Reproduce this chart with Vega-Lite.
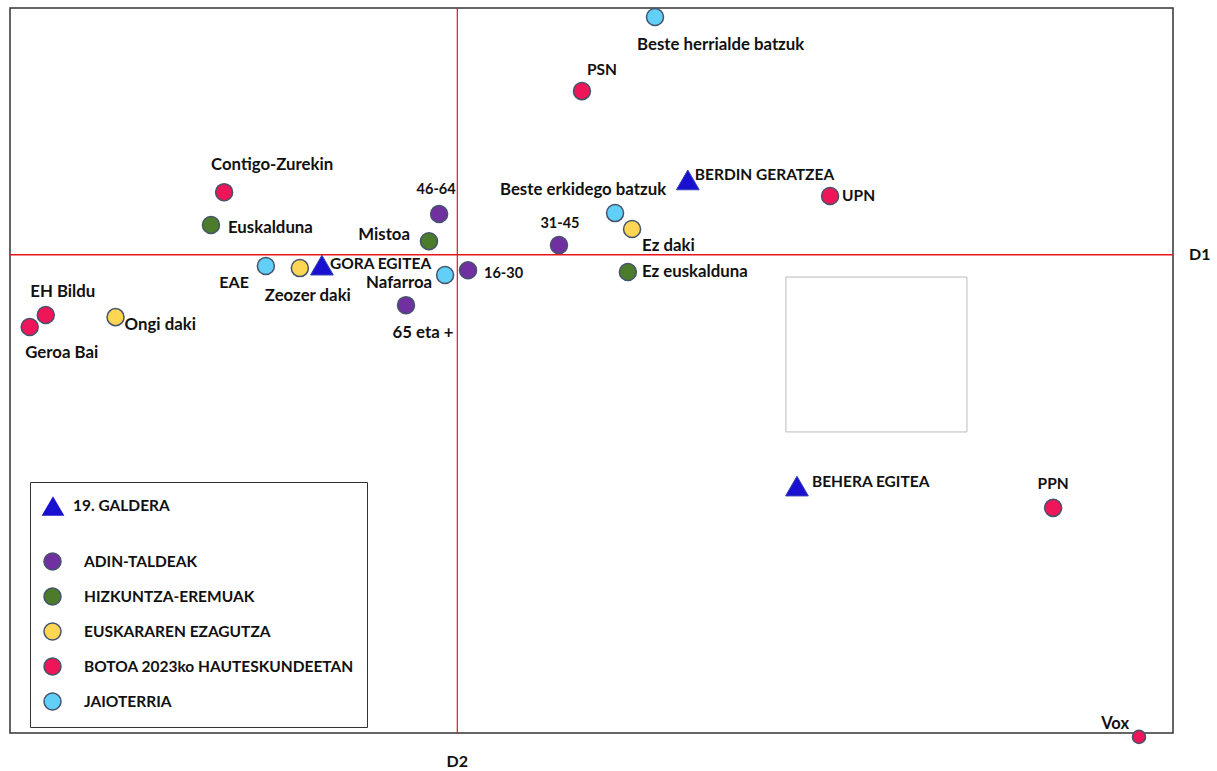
{
  "$schema": "https://vega.github.io/schema/vega-lite/v6.json",
  "width": 1163,
  "height": 725,
  "autosize": {"type": "none"},
  "padding": {"left": 10, "top": 8, "right": 44, "bottom": 38},
  "background": "white",
  "config": {
    "view": {"stroke": "#333333", "strokeWidth": 1.5},
    "font": "Lato",
    "text": {"font": "Lato", "fontSize": 15.5, "fontWeight": "bold", "color": "#111111"},
    "legend": {"labelFont": "Lato", "labelFontSize": 15.5, "labelFontWeight": "bold", "labelColor": "#111111", "labelLimit": 400}
  },
  "data": {
    "values": [
      {"label": "Beste herrialde batzuk", "group": "JAIOTERRIA", "d2": 0.663, "d1": 0.795},
      {"label": "PSN", "group": "BOTOA 2023ko HAUTESKUNDEETAN", "d2": 0.418, "d1": 0.547},
      {"label": "BERDIN GERATZEA", "group": "19. GALDERA", "d2": 0.773, "d1": 0.250},
      {"label": "UPN", "group": "BOTOA 2023ko HAUTESKUNDEETAN", "d2": 1.250, "d1": 0.196},
      {"label": "Beste erkidego batzuk", "group": "JAIOTERRIA", "d2": 0.529, "d1": 0.139},
      {"label": "Ez daki", "group": "EUSKARAREN EZAGUTZA", "d2": 0.586, "d1": 0.086},
      {"label": "31-45", "group": "ADIN-TALDEAK", "d2": 0.341, "d1": 0.032},
      {"label": "46-64", "group": "ADIN-TALDEAK", "d2": -0.061, "d1": 0.136},
      {"label": "Mistoa", "group": "HIZKUNTZA-EREMUAK", "d2": -0.095, "d1": 0.045},
      {"label": "16-30", "group": "ADIN-TALDEAK", "d2": 0.036, "d1": -0.052},
      {"label": "Ez euskalduna", "group": "HIZKUNTZA-EREMUAK", "d2": 0.572, "d1": -0.058},
      {"label": "Nafarroa", "group": "JAIOTERRIA", "d2": -0.041, "d1": -0.068},
      {"label": "65 eta +", "group": "ADIN-TALDEAK", "d2": -0.172, "d1": -0.169},
      {"label": "GORA EGITEA", "group": "19. GALDERA", "d2": -0.454, "d1": -0.035},
      {"label": "Zeozer daki", "group": "EUSKARAREN EZAGUTZA", "d2": -0.528, "d1": -0.045},
      {"label": "EAE", "group": "JAIOTERRIA", "d2": -0.642, "d1": -0.038},
      {"label": "Euskalduna", "group": "HIZKUNTZA-EREMUAK", "d2": -0.826, "d1": 0.099},
      {"label": "Contigo-Zurekin", "group": "BOTOA 2023ko HAUTESKUNDEETAN", "d2": -0.782, "d1": 0.209},
      {"label": "EH Bildu", "group": "BOTOA 2023ko HAUTESKUNDEETAN", "d2": -1.380, "d1": -0.202},
      {"label": "Geroa Bai", "group": "BOTOA 2023ko HAUTESKUNDEETAN", "d2": -1.434, "d1": -0.242},
      {"label": "Ongi daki", "group": "EUSKARAREN EZAGUTZA", "d2": -1.146, "d1": -0.209},
      {"label": "BEHERA EGITEA", "group": "19. GALDERA", "d2": 1.139, "d1": -0.774},
      {"label": "PPN", "group": "BOTOA 2023ko HAUTESKUNDEETAN", "d2": 1.998, "d1": -0.847},
      {"label": "Vox", "group": "BOTOA 2023ko HAUTESKUNDEETAN", "d2": 2.286, "d1": -1.613}
    ]
  },
  "layer": [
    {
      "transform": [{"filter": "datum.group !== '19. GALDERA' && datum.label !== 'Vox'"}],
      "mark": {"type": "point", "shape": "circle", "filled": true, "size": 290, "stroke": "#44546A", "strokeWidth": 1.5, "opacity": 1},
      "encoding": {
        "x": {"field": "d2", "type": "quantitative", "scale": {"domain": [-1.5, 2.4], "nice": false, "zero": false}, "axis": null},
        "y": {"field": "d1", "type": "quantitative", "scale": {"domain": [-1.6, 0.825], "nice": false, "zero": false}, "axis": null},
        "color": {
          "field": "group", "type": "nominal",
          "scale": {
            "domain": ["ADIN-TALDEAK", "HIZKUNTZA-EREMUAK", "EUSKARAREN EZAGUTZA", "BOTOA 2023ko HAUTESKUNDEETAN", "JAIOTERRIA"],
            "range": ["#7030A0", "#4B7B2B", "#FFD554", "#EE1558", "#62CFF8"]
          },
          "legend": {
            "orient": "none", "legendX": 20, "legendY": 474,
            "title": " ", "titleFontSize": 14, "titlePadding": 43,
            "strokeColor": "#333333", "padding": 13,
            "symbolType": "circle", "symbolSize": 290, "symbolStrokeColor": "#44546A", "symbolStrokeWidth": 1.5, "symbolOpacity": 1,
            "labelOffset": 22, "rowPadding": 10
          }
        }
      }
    },
    {
      "data": {"values": [{"zero": 0}]},
      "mark": {"type": "rule", "color": "#E8141C", "strokeWidth": 1.5},
      "encoding": {"y": {"field": "zero", "type": "quantitative"}}
    },
    {
      "data": {"values": [{"zero": 0}]},
      "mark": {"type": "rule", "color": "#E8141C", "strokeWidth": 1.2},
      "encoding": {"x": {"field": "zero", "type": "quantitative"}}
    },
    {
      "data": {"values": [{"name": "box"}]},
      "mark": {"type": "rect", "filled": false, "stroke": "#BBBBBB", "strokeWidth": 1},
      "encoding": {
        "x": {"datum": 1.102, "type": "quantitative"},
        "x2": {"datum": 1.709},
        "y": {"datum": -0.075, "type": "quantitative"},
        "y2": {"datum": -0.593}
      }
    },
    {
      "transform": [{"filter": "datum.label === 'Vox'"}],
      "mark": {"type": "point", "shape": "circle", "filled": true, "size": 170, "stroke": "#44546A", "strokeWidth": 1.5, "opacity": 1},
      "encoding": {
        "x": {"field": "d2", "type": "quantitative"},
        "y": {"field": "d1", "type": "quantitative"},
        "color": {"field": "group", "type": "nominal"}
      }
    },
    {
      "transform": [{"filter": "datum.group === '19. GALDERA'"}],
      "mark": {"type": "point", "filled": true, "size": 520, "fill": "#1A10D0", "stroke": "#3545B5", "strokeWidth": 1, "opacity": 1},
      "encoding": {
        "x": {"field": "d2", "type": "quantitative"},
        "y": {"field": "d1", "type": "quantitative"},
        "shape": {
          "field": "group", "type": "nominal",
          "scale": {"domain": ["19. GALDERA"], "range": ["triangle-up"]},
          "legend": {
            "orient": "none", "legendX": 31, "legendY": 486, "title": null, "padding": 0,
            "symbolSize": 520, "symbolFillColor": "#1A10D0", "symbolStrokeColor": "#3545B5", "symbolStrokeWidth": 1, "symbolOpacity": 1,
            "labelOffset": 8
          }
        }
      }
    },
    {
      "encoding": {
        "x": {"field": "d2", "type": "quantitative"},
        "y": {"field": "d1", "type": "quantitative"},
        "text": {"field": "label", "type": "nominal"}
      },
      "layer": [
        {"transform": [{"filter": "datum.label === 'Beste herrialde batzuk'"}], "mark": {"type": "text", "fontSize": 16.8, "align": "left", "dx": -18, "dy": 28}},
        {"transform": [{"filter": "datum.label === 'PSN'"}], "mark": {"type": "text", "align": "left", "dx": 5, "dy": -21}},
        {"transform": [{"filter": "datum.label === 'BERDIN GERATZEA'"}], "mark": {"type": "text", "align": "left", "dx": 7, "dy": -5}},
        {"transform": [{"filter": "datum.label === 'UPN'"}], "mark": {"type": "text", "align": "left", "dx": 12, "dy": 0}},
        {"transform": [{"filter": "datum.label === 'Beste erkidego batzuk'"}], "mark": {"type": "text", "fontSize": 16.8, "align": "center", "dx": -32, "dy": -23}},
        {"transform": [{"filter": "datum.label === 'Ez daki'"}], "mark": {"type": "text", "fontSize": 16.8, "align": "left", "dx": 10, "dy": 17}},
        {"transform": [{"filter": "datum.label === '31-45'"}], "mark": {"type": "text", "fontSize": 14.5, "align": "center", "dx": 1, "dy": -21}},
        {"transform": [{"filter": "datum.label === '46-64'"}], "mark": {"type": "text", "fontSize": 14.5, "align": "center", "dx": -3, "dy": -24}},
        {"transform": [{"filter": "datum.label === 'Mistoa'"}], "mark": {"type": "text", "fontSize": 16.8, "align": "right", "dx": -19, "dy": -6}},
        {"transform": [{"filter": "datum.label === '16-30'"}], "mark": {"type": "text", "fontSize": 14.5, "align": "left", "dx": 16, "dy": 4}},
        {"transform": [{"filter": "datum.label === 'Ez euskalduna'"}], "mark": {"type": "text", "fontSize": 16.8, "align": "left", "dx": 14, "dy": 0}},
        {"transform": [{"filter": "datum.label === 'Nafarroa'"}], "mark": {"type": "text", "fontSize": 16.8, "align": "right", "dx": -13, "dy": 8}},
        {"transform": [{"filter": "datum.label === '65 eta +'"}], "mark": {"type": "text", "fontSize": 16.8, "align": "center", "dx": 17, "dy": 28}},
        {"transform": [{"filter": "datum.label === 'GORA EGITEA'"}], "mark": {"type": "text", "align": "left", "dx": 8, "dy": -1}},
        {"transform": [{"filter": "datum.label === 'Zeozer daki'"}], "mark": {"type": "text", "fontSize": 16.8, "align": "center", "dx": 8, "dy": 28}},
        {"transform": [{"filter": "datum.label === 'EAE'"}], "mark": {"type": "text", "fontSize": 16, "align": "right", "dx": -17, "dy": 17}},
        {"transform": [{"filter": "datum.label === 'Euskalduna'"}], "mark": {"type": "text", "fontSize": 16.8, "align": "left", "dx": 17, "dy": 3}},
        {"transform": [{"filter": "datum.label === 'Contigo-Zurekin'"}], "mark": {"type": "text", "fontSize": 16.8, "align": "center", "dx": 48, "dy": -27}},
        {"transform": [{"filter": "datum.label === 'EH Bildu'"}], "mark": {"type": "text", "fontSize": 16.8, "align": "center", "dx": 17, "dy": -23}},
        {"transform": [{"filter": "datum.label === 'Geroa Bai'"}], "mark": {"type": "text", "fontSize": 16.8, "align": "center", "dx": 32, "dy": 26}},
        {"transform": [{"filter": "datum.label === 'Ongi daki'"}], "mark": {"type": "text", "fontSize": 16.8, "align": "left", "dx": 9, "dy": 8}},
        {"transform": [{"filter": "datum.label === 'BEHERA EGITEA'"}], "mark": {"type": "text", "align": "left", "dx": 15, "dy": -4}},
        {"transform": [{"filter": "datum.label === 'PPN'"}], "mark": {"type": "text", "align": "center", "dx": 0, "dy": -24}},
        {"transform": [{"filter": "datum.label === 'Vox'"}], "mark": {"type": "text", "fontSize": 16.5, "align": "right", "dx": -10, "dy": -13}}
      ]
    },
    {
      "data": {"values": [{"axisname": "D1", "d2": 2.49, "d1": 0}, {"axisname": "D2", "d2": 0, "d1": -1.698}]},
      "mark": {"type": "text", "align": "center", "fontSize": 16},
      "encoding": {
        "x": {"field": "d2", "type": "quantitative"},
        "y": {"field": "d1", "type": "quantitative"},
        "text": {"field": "axisname", "type": "nominal"}
      }
    }
  ]
}
